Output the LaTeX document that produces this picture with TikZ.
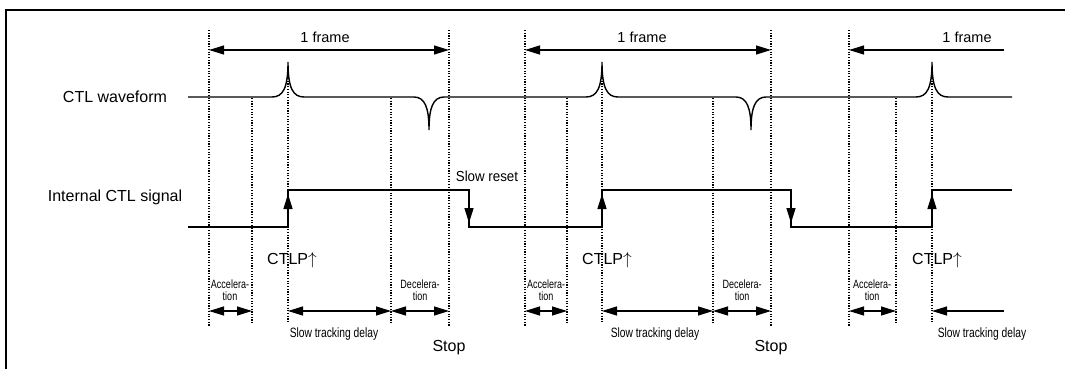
\documentclass[tikz,border=0pt]{standalone}
\usepackage{fontspec}
\setmainfont{Liberation Sans}
\usepackage{graphicx}
\usetikzlibrary{arrows.meta}

\tikzset{
  sig/.style={line width=1.4pt},
  guide/.style={line width=1.2pt, dash pattern=on 1.2pt off 1.5pt},
  span/.style={line width=1.3pt, {Triangle[length=15pt,width=9pt]}-{Triangle[length=15pt,width=9pt]}},
  lspan/.style={line width=1.3pt, {Triangle[length=15pt,width=9pt]}-},
  edge/.style={line width=1.4pt, -{Triangle[length=15pt,width=9pt]}},
  lbl/.style={font=\fontsize{16}{19}\selectfont, inner sep=0pt},
  frm/.style={font=\fontsize{14.5}{17}\selectfont, inner sep=0pt},
  tiny/.style={font=\fontsize{12}{10}\selectfont, inner sep=0pt, align=center},
  note/.style={font=\fontsize{13.5}{15}\selectfont, inner sep=0pt}
}

\newcommand{\narrow}[2]{\scalebox{#1}[1]{#2}}

\begin{document}
\begin{tikzpicture}[x=1pt, y=-1pt]
    \useasboundingbox (0,0) rectangle (1065,369);

    % Frame border
    \draw[line width=2pt] (6,369) -- (6,10) -- (1065,10);

    % Guide lines
    \foreach \x in {209,449,525,771,849}
        \draw[guide] (\x,30) -- (\x,327);
    \foreach \x in {252,391,567,713,896}
        \draw[guide] (\x,98) -- (\x,323);
    \foreach \x in {288,602,932}
        \draw[guide] (\x,78) -- (\x,323);

    % Frame arrows
    \draw[span] (209,50) -- (449,50);
    \draw[span] (525,50) -- (771,50);
    \draw[lspan] (849,50) -- (1004,50);
    \node[frm] (frameA) at (325,37) {1 frame};
    \node[frm] (frameB) at (642,37) {1 frame};
    \node[frm] (frameC) at (967,37) {1 frame};

    % CTL waveform
    \node[lbl] (ctlwave) at (115,97) {CTL waveform};
    \draw[sig] (188,97) -- (272,97)
        .. controls (283,97) and (288,88) .. (288,62)
        .. controls (288,88) and (293,97) .. (304,97) -- (414,97)
        .. controls (425,97) and (429,108) .. (429,130)
        .. controls (429,108) and (433,97) .. (444,97) -- (586,97)
        .. controls (597,97) and (602,88) .. (602,62)
        .. controls (602,88) and (607,97) .. (618,97) -- (736,97)
        .. controls (747,97) and (751,108) .. (751,130)
        .. controls (751,108) and (755,97) .. (766,97) -- (916,97)
        .. controls (927,97) and (932,88) .. (932,62)
        .. controls (932,88) and (937,97) .. (948,97) -- (1012,97);

    % Internal CTL signal
    \node[lbl] (intsig) at (115,197) {Internal CTL signal};
    \draw[sig] (188,227) -- (288,227) -- (288,190) -- (469,190) -- (469,227)
        -- (602,227) -- (602,190) -- (791,190) -- (791,227)
        -- (932,227) -- (932,190) -- (1012,190);
    \draw[edge] (288,227) -- (288,194);
    \draw[edge] (602,227) -- (602,194);
    \draw[edge] (932,227) -- (932,194);
    \draw[edge] (469,190) -- (469,223);
    \draw[edge] (791,190) -- (791,223);
    \node[frm] (reset) at (487,176) {\narrow{0.92}{Slow reset}};

    % CTLP labels
    \node[lbl] (ctlpA) at (292,260) {CTLP$\uparrow$};
    \node[lbl] (ctlpB) at (607,260) {CTLP$\uparrow$};
    \node[lbl] (ctlpC) at (937,260) {CTLP$\uparrow$};

    % Acceleration / deceleration
    \draw[span] (209,311) -- (252,311);
    \draw[span] (525,311) -- (567,311);
    \draw[span] (849,311) -- (896,311);
    \draw[span] (391,311) -- (449,311);
    \draw[span] (713,311) -- (771,311);
    \node[tiny] (accA) at (230,290) {\narrow{0.75}{\shortstack{Accelera-\\tion}}};
    \node[tiny] (accB) at (546,290) {\narrow{0.75}{\shortstack{Accelera-\\tion}}};
    \node[tiny] (accC) at (872,290) {\narrow{0.75}{\shortstack{Accelera-\\tion}}};
    \node[tiny] (decA) at (420,290) {\narrow{0.75}{\shortstack{Decelera-\\tion}}};
    \node[tiny] (decB) at (742,290) {\narrow{0.75}{\shortstack{Decelera-\\tion}}};

    % Slow tracking delay
    \draw[span] (288,311) -- (391,311);
    \draw[span] (602,311) -- (713,311);
    \draw[lspan] (932,311) -- (1004,311);
    \node[note] (trackA) at (334,334) {\narrow{0.76}{Slow tracking delay}};
    \node[note] (trackB) at (655,334) {\narrow{0.76}{Slow tracking delay}};
    \node[note] (trackC) at (982,334) {\narrow{0.76}{Slow tracking delay}};

    % Stop
    \node[lbl] (stopA) at (449,348) {Stop};
    \node[lbl] (stopB) at (771,348) {Stop};

\end{tikzpicture}
\end{document}
